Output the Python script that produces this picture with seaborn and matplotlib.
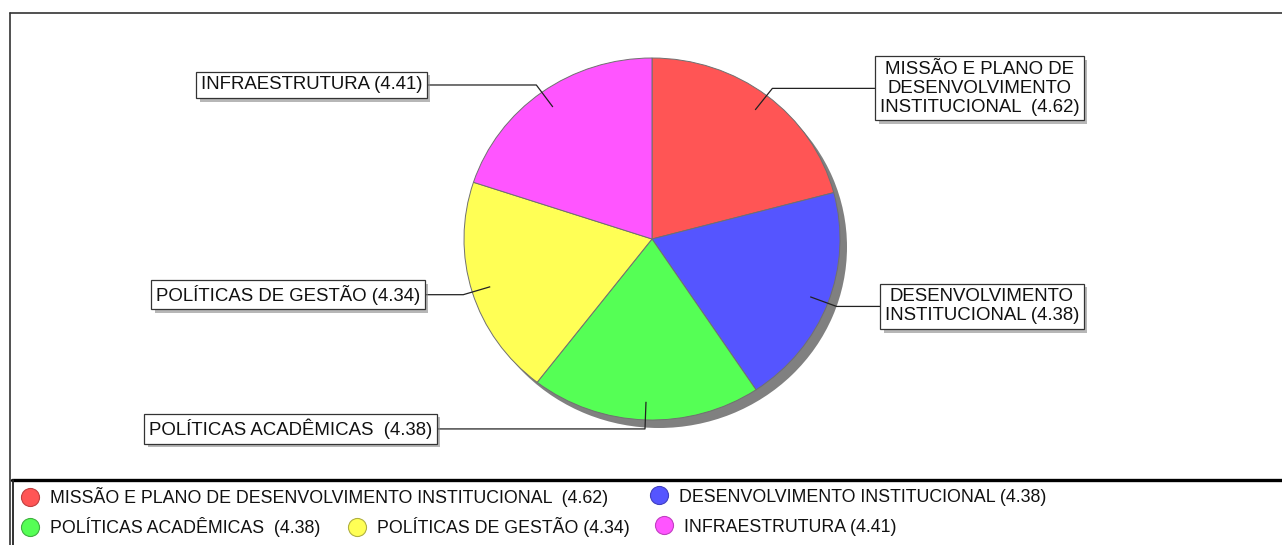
import numpy as np
import matplotlib
matplotlib.use('Agg')
import matplotlib.pyplot as plt
from matplotlib.lines import Line2D
import matplotlib.patheffects as pe
import seaborn as sns

# data
categories = ['MISSÃO E PLANO DE DESENVOLVIMENTO INSTITUCIONAL',
              'DESENVOLVIMENTO INSTITUCIONAL',
              'POLÍTICAS ACADÊMICAS',
              'POLÍTICAS DE GESTÃO',
              'INFRAESTRUTURA']
values = [4.62, 4.38, 4.38, 4.34, 4.41]
box_labels = ['MISSÃO E PLANO DE\nDESENVOLVIMENTO\nINSTITUCIONAL  (4.62)',
              'DESENVOLVIMENTO\nINSTITUCIONAL (4.38)',
              'POLÍTICAS ACADÊMICAS  (4.38)',
              'POLÍTICAS DE GESTÃO (4.34)',
              'INFRAESTRUTURA (4.41)']
legend_labels = ['MISSÃO E PLANO DE DESENVOLVIMENTO INSTITUCIONAL  (4.62)',
                 'DESENVOLVIMENTO INSTITUCIONAL (4.38)',
                 'POLÍTICAS ACADÊMICAS  (4.38)',
                 'POLÍTICAS DE GESTÃO (4.34)',
                 'INFRAESTRUTURA (4.41)']
colors = ['#ff5555', '#5555ff', '#55ff55', '#ffff55', '#ff55ff']
edge_colors = ['#c04040', '#4040c0', '#40b040', '#b0b040', '#c040c0']

sns.set_style('white')
plt.rcParams['font.family'] = ['Liberation Sans', 'DejaVu Sans']

W, H = 1282, 545
fig = plt.figure(figsize=(W / 100, H / 100), dpi=100)

# pie axes (slightly wider than tall, like the original)
cx, cy, rx, ry = 652, 239, 188, 181
ax = fig.add_axes([(cx - rx) / W, (H - cy - ry) / H, 2 * rx / W, 2 * ry / H])

# shadow
ax.pie([1], colors=['#808080'], radius=1, center=(7 / rx, -8 / ry),
       wedgeprops=dict(linewidth=0))
wedges, _ = ax.pie(values, colors=colors, startangle=90, counterclock=False,
                   radius=1, wedgeprops=dict(edgecolor='#707070', linewidth=0.7))
ax.set_aspect('auto')
ax.set_xlim(-1, 1)
ax.set_ylim(-1, 1)
ax.axis('off')

# label boxes with leader lines
box_edge = [1.186, 1.213, -1.144, -1.207, -1.197]
fs_box = 13.4
fs_leg = 12.8
for w, lab, bx in zip(wedges, box_labels, box_edge):
    mid = np.deg2rad((w.theta1 + w.theta2) / 2)
    x0, y0 = 0.9 * np.cos(mid), 0.9 * np.sin(mid)
    x1, y1 = 1.05 * np.cos(mid), 1.05 * np.sin(mid)
    ax.plot([x0, x1, bx], [y0, y1, y1], color='#222222', lw=0.9,
            clip_on=False, solid_capstyle='butt')
    right = bx > 0
    t = ax.annotate(lab, xy=(bx, y1), xytext=(3.4 if right else -3.4, 0),
                    textcoords='offset points',
                    ha='left' if right else 'right', va='center',
                    multialignment='center', fontsize=fs_box, color='#111111',
                    linespacing=1.15, annotation_clip=False,
                    bbox=dict(boxstyle='square,pad=0.25', fc='white',
                              ec='#333333', lw=0.9))
    t.get_bbox_patch().set_path_effects([
        pe.SimplePatchShadow(offset=(2.5, -2.5), shadow_rgbFace='#888888', alpha=0.6),
        pe.Normal()])

# outer frame
fig.add_artist(Line2D([10 / W, 10 / W], [0, 1 - 13 / H], transform=fig.transFigure,
                      color='#333333', lw=1.2))
fig.add_artist(Line2D([10 / W, 1], [1 - 13 / H, 1 - 13 / H], transform=fig.transFigure,
                      color='#333333', lw=1.2))
# legend frame
fig.add_artist(Line2D([12 / W, 1], [1 - 480 / H, 1 - 480 / H], transform=fig.transFigure,
                      color='black', lw=2.4))
fig.add_artist(Line2D([12.5 / W, 12.5 / W], [0, 1 - 480 / H], transform=fig.transFigure,
                      color='#222222', lw=1.3))

handles = [Line2D([], [], ls='', marker='o', markersize=13, markerfacecolor=c,
                  markeredgecolor=e, markeredgewidth=0.8)
           for c, e in zip(colors, edge_colors)]

# legend entries flow in two rows, each placed where the original puts it
leg_x = [21, 650, 21, 348, 655]
leg_y = [497, 497, 527, 527, 527]
for h, lab, lx, ly in zip(handles, legend_labels, leg_x, leg_y):
    leg = fig.legend([h], [lab], loc='center left',
                     bbox_to_anchor=(lx / W, 1 - ly / H), frameon=False,
                     fontsize=fs_leg, handlelength=1.03, handletextpad=0.6,
                     borderpad=0, borderaxespad=0)
    for txt in leg.get_texts():
        txt.set_color('#111111')

fig.savefig('out.png', dpi=100, facecolor='white')
